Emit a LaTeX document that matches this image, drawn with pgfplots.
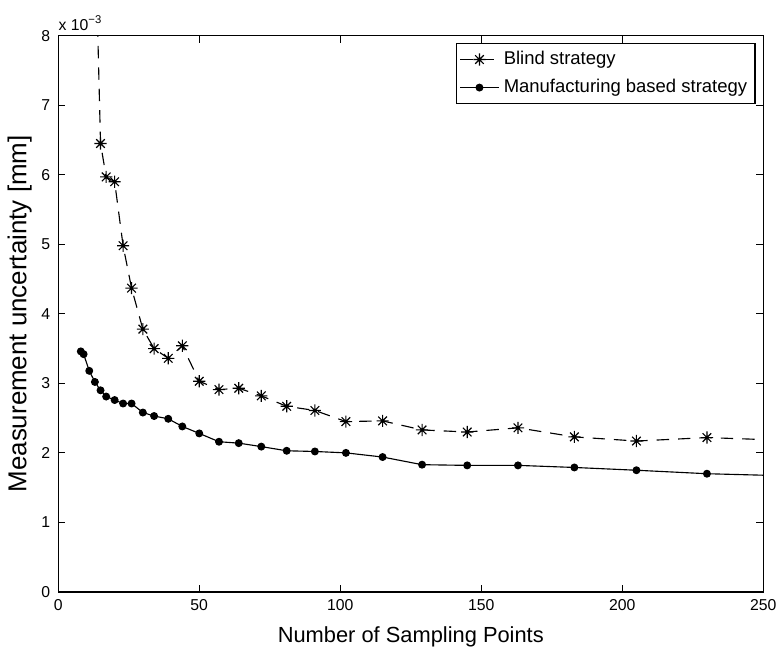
\documentclass[border=0pt]{standalone}
\usepackage{fontspec}
\setmainfont{Liberation Sans}
\usepackage{pgfplots}
\pgfplotsset{compat=1.18}

% MATLAB-like '*' marker: a plus and a cross
\pgfdeclareplotmark{mstar}{%
  \pgfpathmoveto{\pgfqpoint{-\pgfplotmarksize}{0pt}}\pgfpathlineto{\pgfqpoint{\pgfplotmarksize}{0pt}}%
  \pgfpathmoveto{\pgfqpoint{0pt}{-\pgfplotmarksize}}\pgfpathlineto{\pgfqpoint{0pt}{\pgfplotmarksize}}%
  \pgfpathmoveto{\pgfqpoint{-0.707\pgfplotmarksize}{-0.707\pgfplotmarksize}}\pgfpathlineto{\pgfqpoint{0.707\pgfplotmarksize}{0.707\pgfplotmarksize}}%
  \pgfpathmoveto{\pgfqpoint{-0.707\pgfplotmarksize}{0.707\pgfplotmarksize}}\pgfpathlineto{\pgfqpoint{0.707\pgfplotmarksize}{-0.707\pgfplotmarksize}}%
  \pgfusepathqstroke}

\begin{document}
\begin{tikzpicture}
\begin{axis}[
  scale only axis,
  width=11cm, height=8.676cm,
  xmin=0, xmax=250, ymin=0, ymax=0.008,
  xtick={0,50,...,250},
  ytick={0,0.001,0.002,0.003,0.004,0.005,0.006,0.007,0.008},
  scaled y ticks=base 10:3,
  ytick scale label code/.code={x 10\textsuperscript{−3}},
  every y tick scale label/.style={at={(rel axis cs:0,1)}, anchor=south west, inner sep=0pt, yshift=2pt, font=\fontsize{7}{8}\selectfont},
  tick align=inside, tick pos=both,
  major tick length=3.2pt,
  axis line style={line width=0.6pt},
  tick style={line width=0.5pt, black},
  /pgf/number format/assume math mode=true,
  tick label style={font=\fontsize{7}{8}\selectfont},
  xlabel={Number of Sampling Points},
  ylabel={Measurement uncertainty [mm]},
  xlabel style={font=\fontsize{9.7}{11}\selectfont},
  ylabel style={font=\fontsize{11.5}{12}\selectfont},
  ylabel shift=-2.5pt,
  legend style={at={(0.989,0.9875)}, anchor=north east, font=\fontsize{8.2}{10}\selectfont,
    draw=black, line width=0.5pt, inner sep=1.5pt, row sep=1pt},
  legend cell align=left,
]
\addplot[black, line width=0.5pt, dash pattern=on 5.5pt off 4pt,
  mark=mstar, mark size=2.7pt, mark options={solid, line width=0.5pt}]
coordinates {
(13,0.0097)(15,0.00645)(17,0.00597)(20,0.00590)(23,0.00498)(26,0.00437)
(30,0.00378)(34,0.00350)(39,0.00336)(44,0.00354)(50,0.00303)(57,0.00291)
(64,0.00293)(72,0.00282)(81,0.00267)(91,0.00261)(102,0.00245)(115,0.00246)
(129,0.00233)(145,0.00230)(163,0.00236)(183,0.00223)(205,0.00217)(230,0.00222)
(258,0.00218)};
\addlegendentry{Blind strategy}
\addplot[black, line width=0.5pt, mark=*, mark size=1.5pt]
coordinates {
(8,0.00346)(9,0.00342)(11,0.00318)(13,0.00302)(15,0.00290)(17,0.00281)
(20,0.00276)(23,0.00271)(26,0.00271)(30,0.00258)(34,0.00253)(39,0.00249)
(44,0.00238)(50,0.00228)(57,0.00216)(64,0.00214)(72,0.00209)(81,0.00203)
(91,0.00202)(102,0.00200)(115,0.00194)(129,0.00183)(145,0.00182)(163,0.00182)
(183,0.00179)(205,0.00175)(230,0.00170)(258,0.00167)};
\addlegendentry{Manufacturing based strategy}
\end{axis}
\path (current axis.south west) ++(-0.868cm,-0.837cm) rectangle ([xshift=0.279cm,yshift=0.558cm]current axis.north east);
\end{tikzpicture}
\end{document}
